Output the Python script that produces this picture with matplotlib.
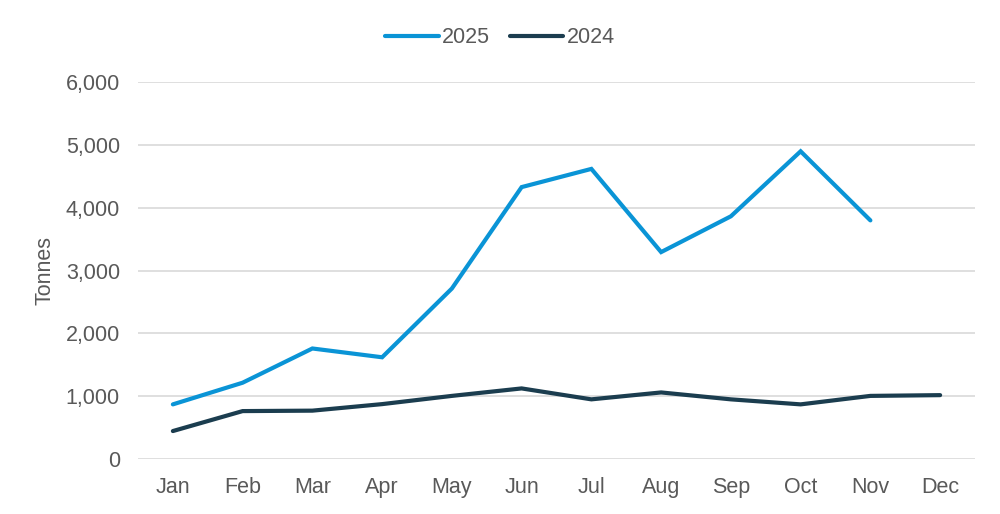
import matplotlib
matplotlib.use("Agg")
import matplotlib.pyplot as plt
from matplotlib.ticker import FuncFormatter

months = ["Jan", "Feb", "Mar", "Apr", "May", "Jun", "Jul", "Aug", "Sep", "Oct", "Nov", "Dec"]
y2025 = [870, 1215, 1760, 1620, 2715, 4330, 4620, 3295, 3865, 4900, 3800]
y2024 = [445, 763, 770, 874, 1005, 1124, 950, 1060, 950, 870, 1005, 1017]

plt.rcParams['font.family'] = ['Liberation Sans', 'DejaVu Sans']
fig = plt.figure(figsize=(10, 5.14), dpi=100)
ax = fig.add_axes([0.138, 0.107, 0.837, 0.733])

x = list(range(len(months)))
ax.plot(x[:len(y2025)], y2025, color="#0A94D6", lw=3.0, solid_capstyle="round", solid_joinstyle="miter", label="2025")
ax.plot(x, y2024, color="#1B3D4F", lw=3.0, solid_capstyle="round", solid_joinstyle="miter", label="2024")

ax.set_xlim(-0.5, len(months) - 0.5)
ax.set_ylim(0, 6000)
ax.set_yticks(range(0, 6001, 1000))
ax.yaxis.set_major_formatter(FuncFormatter(lambda v, p: f"{int(v):,}"))
ax.set_xticks(x)
ax.set_xticklabels(months)
ax.grid(axis="y", color="#D9D9D9", lw=1.2)
ax.set_axisbelow(True)
for s in ax.spines.values():
    s.set_visible(False)
ax.tick_params(axis="both", length=0, labelsize=15.5, colors="#595959")
ax.tick_params(axis="x", pad=13)
ax.tick_params(axis="y", pad=13)
ax.set_ylabel("Tonnes", fontsize=15.5, color="#595959", labelpad=7)

leg = fig.legend(loc="upper center", bbox_to_anchor=(0.5, 0.985), ncol=2, frameon=False,
                 fontsize=15.5, handlelength=2.5, handletextpad=0.15, columnspacing=0.9)
for t in leg.get_texts():
    t.set_color("#595959")

fig.savefig("out.png", dpi=100, facecolor="white")
